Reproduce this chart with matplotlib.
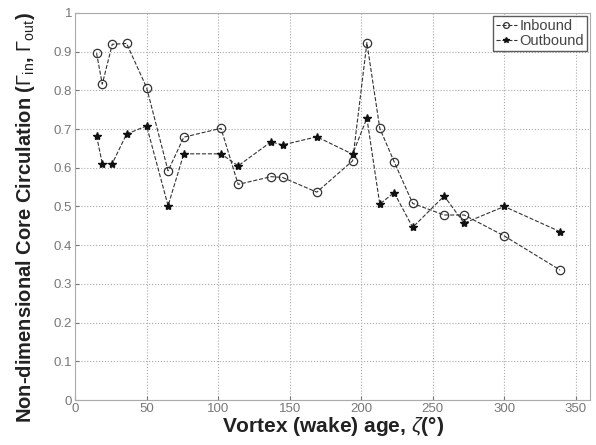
import matplotlib
matplotlib.use('Agg')
import matplotlib.pyplot as plt

plt.rcParams['font.family'] = ['Liberation Sans', 'DejaVu Sans']
plt.rcParams['mathtext.fontset'] = 'custom'
plt.rcParams['mathtext.rm'] = 'Liberation Sans'
plt.rcParams['mathtext.it'] = 'Liberation Sans:italic'
plt.rcParams['mathtext.bf'] = 'Liberation Sans:bold'

# vortex age (deg)
age = [15, 19, 26, 36, 50, 65, 76, 102, 114, 137, 145, 169, 194, 204, 213, 223, 236, 258, 272, 300, 339]
inbound = [0.896, 0.816, 0.919, 0.921, 0.807, 0.592, 0.679, 0.702, 0.557, 0.577, 0.575, 0.537, 0.618,
           0.923, 0.702, 0.616, 0.508, 0.478, 0.478, 0.424, 0.336]
outbound = [0.682, 0.611, 0.611, 0.687, 0.708, 0.502, 0.636, 0.636, 0.605, 0.667, 0.659, 0.680, 0.635,
            0.728, 0.506, 0.536, 0.446, 0.527, 0.457, 0.500, 0.435]

xticks = [0, 50, 100, 150, 200, 250, 300, 350]
yticks = [0, 0.1, 0.2, 0.3, 0.4, 0.5, 0.6, 0.7, 0.8, 0.9, 1]

fig = plt.figure(figsize=(5.96, 4.45), dpi=100)
ax = fig.add_axes([0.126, 0.101, 0.864, 0.87])

ax.plot(age, inbound, ls='--', color='#333333', lw=0.8, marker='o', ms=6,
        mfc='none', mec='#333333', mew=0.9, label='Inbound')
ax.plot(age, outbound, ls='--', color='#333333', lw=0.8, marker='*', ms=6,
        mfc='#111111', mec='#111111', label='Outbound')

ax.set_xlim(0, 360)
ax.set_ylim(0, 1)
ax.set_xticks(xticks)
ax.set_yticks(yticks)
ax.set_yticklabels(['0', '0.1', '0.2', '0.3', '0.4', '0.5', '0.6', '0.7', '0.8', '0.9', '1'])
ax.tick_params(direction='in', labelsize=9.5, colors='#777777', length=3, pad=2)
ax.grid(True, ls=':', color='#aaaaaa', lw=0.8)
for s in ax.spines.values():
    s.set_color('#aaaaaa')

ax.set_xlabel(r'Vortex (wake) age, $\zeta$(°)', fontsize=15, fontweight='bold', color='#222222', labelpad=0)
ax.set_ylabel(r'Non-dimensional Core Circulation ($\Gamma_{\rm in}$, $\Gamma_{\rm out}$)',
              fontsize=14.5, fontweight='bold', color='#222222')
ax.yaxis.set_label_coords(-0.074, 0.47)

leg = ax.legend(loc='upper right', fontsize=10.5, frameon=True, fancybox=False,
                edgecolor='#333333', borderpad=0.2, handlelength=1.4, handletextpad=0.2,
                labelspacing=0.1, borderaxespad=0.2, markerscale=0.7)
for t in leg.get_texts():
    t.set_color('#444444')

fig.savefig('out.png', dpi=100)
